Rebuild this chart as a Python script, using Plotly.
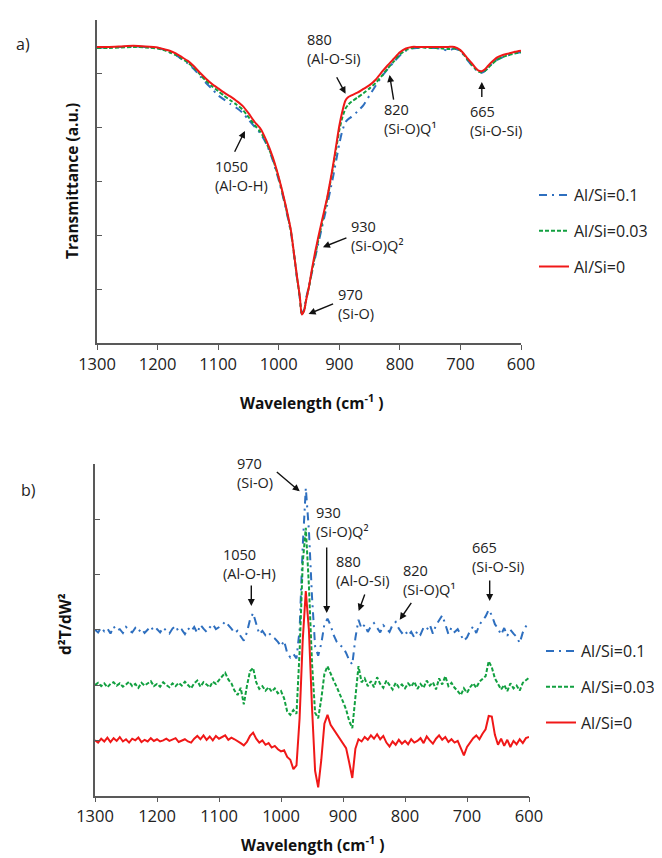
import plotly.graph_objects as go

# ---------------- data: panel a) FTIR transmittance ----------------
WN_A = [1300, 1280, 1260, 1240, 1220, 1200, 1190, 1180, 1170, 1160,
        1150, 1140, 1130, 1120, 1110, 1100, 1090, 1080, 1070, 1060,
        1050, 1040, 1030, 1020, 1010, 1000, 990, 980, 975, 970,
        965, 962, 958, 955, 950, 945, 940, 935, 930, 925,
        920, 915, 910, 905, 900, 895, 890, 885, 880, 870,
        860, 850, 840, 830, 820, 810, 800, 790, 780, 770,
        760, 750, 740, 730, 720, 710, 700, 690, 680, 675,
        670, 665, 660, 655, 650, 640, 630, 620, 610, 600]

T_SI01 = [54.9, 54.9, 55.0, 55.1, 55.0, 54.8, 54.5, 54.0, 53.5, 52.7,
          51.9, 50.9, 49.6, 48.3, 47.2, 46.0, 45.2, 44.4, 43.7, 42.8,
          41.5, 40.2, 38.9, 36.9, 34.0, 30.3, 25.8, 20.6, 16.6, 12.2,
          8.2, 5.4, 6.3, 8.2, 10.6, 13.2, 15.8, 18.3, 20.8, 23.2,
          25.6, 28.3, 31.0, 34.0, 37.0, 39.4, 41.0, 41.6, 42.0, 43.0,
          44.2, 46.0, 47.8, 49.5, 50.9, 52.2, 53.4, 54.3, 54.7, 54.8,
          54.9, 54.8, 54.8, 54.6, 54.3, 54.7, 54.2, 52.8, 51.4, 50.8,
          50.3, 50.2, 50.5, 51.0, 51.6, 52.6, 53.1, 53.5, 53.8, 54.0]

T_SI003 = [54.8, 54.8, 54.9, 55.0, 54.9, 54.7, 54.4, 54.0, 53.5, 52.8,
           52.1, 51.1, 49.9, 48.7, 47.7, 46.8, 45.9, 45.1, 44.3, 43.4,
           42.0, 40.5, 39.2, 37.1, 34.3, 30.6, 26.1, 20.8, 16.8, 12.3,
           8.3, 5.3, 6.1, 7.9, 10.4, 13.4, 16.2, 18.9, 21.5, 24.1,
           26.7, 29.7, 32.8, 36.2, 39.5, 41.9, 43.5, 44.3, 44.8, 45.6,
           46.4, 47.3, 48.3, 49.6, 51.0, 52.3, 53.6, 54.4, 54.8, 54.9,
           54.9, 54.8, 54.8, 54.7, 54.6, 54.7, 54.3, 52.9, 51.5, 50.9,
           50.4, 50.3, 50.5, 51.0, 51.6, 52.6, 53.1, 53.5, 53.8, 54.0]

T_SI0 = [55.0, 55.0, 55.1, 55.2, 55.1, 54.9, 54.6, 54.3, 53.8, 53.1,
         52.4, 51.4, 50.2, 49.1, 48.1, 47.3, 46.5, 45.8, 45.0, 44.1,
         42.7, 41.1, 39.8, 37.5, 34.6, 30.8, 26.3, 21.0, 16.8, 12.5,
         8.5, 5.3, 6.0, 7.8, 10.5, 13.8, 16.8, 19.5, 22.0, 24.5,
         27.0, 30.0, 33.2, 36.8, 40.3, 43.0, 45.0, 45.7, 46.0, 46.5,
         47.2, 47.9, 48.9, 50.3, 51.6, 52.8, 54.0, 54.7, 55.0, 55.0,
         55.0, 55.0, 55.0, 55.0, 55.0, 55.0, 54.4, 53.1, 51.8, 51.1,
         50.6, 50.5, 50.8, 51.4, 52.0, 53.0, 53.5, 53.8, 54.1, 54.3]

# ---------------- data: panel b) second derivative (offset traces) ----------------
WN_B = list(range(1300, 599, -5))   # 1300, 1295, ..., 600

D2_SI01 = [30.0, 29.5, 30.4, 29.7, 30.2, 29.3, 30.6, 29.8, 30.1, 29.4,   # 1300
           30.5, 29.9, 29.5, 30.3, 29.6, 30.2, 29.4, 30.0, 30.6, 29.7,   # 1250
           30.1, 29.5, 30.4, 29.8, 29.3, 30.2, 30.7, 29.6, 30.0, 29.2,   # 1200
           30.3, 29.7, 30.5, 29.4, 30.9, 30.2, 29.6, 30.4, 31.0, 30.1,   # 1150
           30.5, 30.8, 31.5, 30.9, 30.2, 29.4, 29.8, 28.8, 28.0, 29.5,   # 1100
           31.8, 33.0, 31.0, 29.2, 29.8, 29.0, 29.5, 28.8, 28.4, 27.8,   # 1050
           27.0, 28.0, 25.8, 25.0, 25.6, 24.8, 30.0, 45.0, 55.6, 48.0,   # 1000
           36.0, 27.0, 25.3, 27.5, 31.0, 32.0, 30.8, 29.0, 27.8, 27.2,   # 950
           26.8, 25.8, 24.5, 23.7, 28.5, 31.8, 30.2, 30.9, 29.6, 30.6,   # 900
           31.2, 30.4, 29.5, 30.8, 30.1, 29.6, 30.9, 31.4, 30.2, 29.4,   # 850
           29.9, 28.9, 29.6, 28.6, 29.8, 29.1, 30.4, 30.0, 30.9, 29.3,   # 800
           30.8, 31.6, 32.6, 31.0, 29.2, 30.4, 29.6, 30.1, 28.9, 28.0,   # 750
           28.6, 29.8, 30.6, 29.4, 30.9, 31.7, 32.4, 33.6, 32.6, 31.0,   # 700
           30.2, 29.1, 30.3, 28.9, 30.0, 29.3, 28.7, 27.6, 29.5, 30.6,   # 650
           31.2]                                                         # 600

D2_SI003 = [20.0, 20.4, 19.8, 20.3, 19.6, 20.2, 20.5, 19.9, 20.3, 19.7,
            20.1, 20.6, 19.8, 20.2, 19.5, 20.4, 19.9, 20.3, 20.7, 19.8,
            20.2, 19.7, 20.5, 20.0, 19.6, 20.3, 19.8, 20.4, 19.9, 20.6,
            20.0, 19.4, 20.3, 20.8, 19.7, 20.5, 20.1, 19.6, 20.6, 20.2,
            20.9, 21.5, 22.2, 21.0, 20.3, 19.0, 18.2, 19.5, 16.5, 19.8,
            22.5, 23.1, 20.5, 19.3, 19.8, 19.0, 19.6, 18.8, 19.4, 18.5,
            18.9, 17.6, 15.2, 14.6, 15.5, 14.8, 26.0, 42.0, 48.4, 38.0,
            24.0, 15.0, 14.0, 17.5, 22.0, 23.4, 22.0, 20.8, 19.6, 18.4,
            17.0, 15.6, 13.5, 12.2, 18.0, 23.4, 20.5, 21.2, 19.8, 20.7,
            19.6, 21.4, 20.2, 19.5, 20.8, 19.9, 19.2, 20.4, 19.6, 20.1,
            19.4, 20.3, 19.7, 20.6, 19.3, 20.2, 19.5, 20.8, 19.9, 20.5,
            19.2, 21.2, 20.1, 21.6, 19.8, 20.4, 19.5, 18.9, 18.2, 19.4,
            18.6, 19.6, 20.3, 19.5, 20.6, 21.1, 21.6, 24.3, 23.2, 21.2,
            20.1, 19.2, 20.0, 18.9, 20.3, 19.4, 19.9, 19.0, 20.4, 20.8,
            21.3]

D2_SI0 = [10.0, 9.6, 10.3, 9.8, 10.5, 9.7, 10.4, 9.9, 10.6, 9.8,
          10.2, 9.6, 10.3, 10.0, 10.5, 9.7, 10.1, 9.8, 10.4, 9.9,
          10.2, 9.8, 10.0, 10.3, 9.9, 10.1, 10.4, 9.7, 10.0, 10.2,
          9.8, 9.6, 10.3, 10.8, 10.2, 10.9, 10.1, 10.7, 10.0, 10.8,
          10.3, 10.6, 10.9, 10.1, 10.5, 10.2, 9.9, 9.5, 9.1, 9.7,
          10.8, 11.4, 10.3, 9.6, 10.0, 9.2, 9.5, 8.7, 9.0, 8.4,
          8.0, 8.2, 7.0, 6.5, 4.8, 5.5, 14.0, 28.0, 37.0, 30.0,
          16.0, 4.5, 1.5, 6.5, 13.0, 14.6, 12.8, 12.0, 11.2, 10.4,
          9.6, 8.6, 6.0, 3.2, 8.5, 10.2, 9.8, 10.6, 10.1, 10.9,
          10.3, 11.1, 10.2, 10.8, 9.6, 8.9, 9.8, 9.2, 10.1, 9.4,
          9.9, 9.3, 10.2, 9.6, 9.9, 10.4, 9.5, 10.7, 10.0, 9.4,
          10.3, 10.9, 10.1, 10.6, 9.7, 10.2, 9.6, 9.9, 8.6, 7.3,
          8.8, 9.7, 10.4, 10.9, 10.2, 11.2, 12.0, 14.4, 14.3, 11.0,
          9.2, 10.3, 9.0, 10.1, 8.8, 9.9, 9.3, 10.2, 9.5, 10.4,
          10.6]

SERIES_NAMES = ["Al/Si=0.1", "Al/Si=0.03", "Al/Si=0"]
X_TICKS = [1300, 1200, 1100, 1000, 900, 800, 700, 600]

# band labels (text) and the wavenumber each arrow points at
LABELS_A = ["880<br>(Al-O-Si)", "820<br>(Si-O)Q¹", "665<br>(Si-O-Si)",
            "1050<br>(Al-O-H)", "930<br>(Si-O)Q²", "970<br>(Si-O)"]
ARROW_WN_A = [889.6, 817, 664.7, 1055.8, 927, 950.7]
ARROW_VAL_A = [46.3, 49.8, 48.5, 39.4, 17.8, 5.4]

LABELS_B = ["970<br>(Si-O)", "930<br>(Si-O)Q²", "1050<br>(Al-O-H)",
            "880<br>(Al-O-Si)", "820<br>(Si-O)Q¹", "665<br>(Si-O-Si)"]
ARROW_WN_B = [969.8, 926.3, 1047.9, 874.7, 808.5, 663.4]
ARROW_VAL_B = [55.0, 33.0, 34.3, 33.4, 31.8, 35.2]

# ---------------- layout helpers ----------------
W, H = 662, 858
def px(x):
    return x / W
def py(y):
    return 1 - y / H

FONT = "Open Sans"
COLORS = ["#2E6FBF", "#12A040", "#F01818"]
DASHES = ["8px,5px,2px,5px", "4px,2px", "solid"]

fig = go.Figure()

for name, ys, c, d in zip(SERIES_NAMES, [T_SI01, T_SI003, T_SI0], COLORS, DASHES):
    fig.add_trace(go.Scatter(x=WN_A, y=ys, mode="lines", name=name,
                             line=dict(color=c, dash=d, width=2, shape="spline", smoothing=0.6),
                             xaxis="x", yaxis="y", legend="legend", legendgroup="a" + name))

for name, ys, c, d in zip(SERIES_NAMES, [D2_SI01, D2_SI003, D2_SI0], COLORS, DASHES):
    fig.add_trace(go.Scatter(x=WN_B, y=ys, mode="lines", name=name,
                             line=dict(color=c, dash=d, width=2),
                             xaxis="x2", yaxis="y2", legend="legend2", legendgroup="b" + name))

axis_common = dict(range=[1300, 600], tickmode="array", tickvals=X_TICKS,
                   ticks="outside", ticklen=5, tickcolor="#595959",
                   showline=True, linecolor="#595959", linewidth=1.5,
                   showgrid=False, zeroline=False, automargin=False,
                   tickfont=dict(family=FONT, size=16.5, color="#222"))
yaxis_common = dict(range=[0, 60], tickmode="linear", tick0=0, dtick=10,
                    ticks="inside", ticklen=5, tickcolor="#595959",
                    showticklabels=False, showline=True, linecolor="#595959",
                    linewidth=1.5, showgrid=False, zeroline=False, automargin=False)

legend_common = dict(xanchor="left", yanchor="top", bgcolor="rgba(0,0,0,0)",
                     font=dict(family=FONT, size=16, color="#222"),
                     tracegroupgap=12, itemwidth=30, traceorder="grouped")

fig.update_layout(
    template="none",
    width=W, height=H, margin=dict(l=0, r=0, t=0, b=0, pad=0, autoexpand=False),
    paper_bgcolor="white", plot_bgcolor="white",
    xaxis=dict(domain=[px(89), px(513)], anchor="y", **axis_common),
    yaxis=dict(domain=[py(335), py(12)], anchor="x", **yaxis_common),
    xaxis2=dict(domain=[px(87), px(521)], anchor="y2", **axis_common),
    yaxis2=dict(domain=[py(787.7), py(455.7)], anchor="x2", **yaxis_common),
    legend=dict(x=px(526), y=py(170), **legend_common),
    legend2=dict(x=px(533), y=py(626), **legend_common),
    showlegend=True,
)

ann = []
text_font = dict(family=FONT, size=14.5, color="#222")
# text blocks: (left px, center y px); arrow tails as pixel offsets from the head
POS_A = [(299, 40.8), (376, 110.7), (461.7, 112.7), (207, 168), (343, 228), (330, 296.3)]
TAIL_A = [(-9.7, -18), (4.3, 26.3), (0, 16.7), (-11, 22.3), (25, -10), (26, -10.7)]
POS_B = [(229, 465), (308, 514), (215, 556), (328, 563), (395, 571.7), (464, 549)]
TAIL_B = [(-24.4, -20.6), (0, -67), (0, -22), (6.6, -18), (12.6, -18.4), (0, -22)]

for lab, (lx, cy) in zip(LABELS_A, POS_A):
    ann.append(dict(text=lab, xref="paper", yref="paper", x=px(lx - 2), y=py(cy),
                    xanchor="left", yanchor="middle", align="left",
                    showarrow=False, font=text_font))
for wn, v, (ax, ay) in zip(ARROW_WN_A, ARROW_VAL_A, TAIL_A):
    ann.append(dict(text="", xref="x", yref="y", x=wn, y=v, ax=ax, ay=ay,
                    showarrow=True, arrowhead=2, arrowsize=1, arrowwidth=1.4,
                    arrowcolor="#111"))
for lab, (lx, cy) in zip(LABELS_B, POS_B):
    ann.append(dict(text=lab, xref="paper", yref="paper", x=px(lx - 2), y=py(cy),
                    xanchor="left", yanchor="middle", align="left",
                    showarrow=False, font=text_font))
for wn, v, (ax, ay) in zip(ARROW_WN_B, ARROW_VAL_B, TAIL_B):
    ann.append(dict(text="", xref="x2", yref="y2", x=wn, y=v, ax=ax, ay=ay,
                    showarrow=True, arrowhead=2, arrowsize=1, arrowwidth=1.4,
                    arrowcolor="#111"))

title_font = dict(family=FONT, size=15.5, color="#111")
ann += [
    dict(text="<b>Wavelength (cm<sup>-1</sup> )</b>", xref="paper", yref="paper",
         x=px(304), y=py(394), xanchor="center", yanchor="middle", showarrow=False, font=title_font),
    dict(text="<b>Wavelength (cm<sup>-1</sup> )</b>", xref="paper", yref="paper",
         x=px(305), y=py(836), xanchor="center", yanchor="middle", showarrow=False, font=title_font),
    dict(text="<b>Transmittance (a.u.)</b>", xref="paper", yref="paper", textangle=-90,
         x=px(64), y=py(173), xanchor="center", yanchor="middle", showarrow=False,
         font=dict(family=FONT, size=15.5, color="#111")),
    dict(text="<b>d²T/dW²</b>", xref="paper", yref="paper", textangle=-90,
         x=px(57), y=py(616), xanchor="center", yanchor="middle", showarrow=False,
         font=dict(family=FONT, size=15.5, color="#111")),
    dict(text="a)", xref="paper", yref="paper", x=px(15), y=py(36),
         xanchor="center", yanchor="middle", showarrow=False,
         font=dict(family=FONT, size=16, color="#222")),
    dict(text="b)", xref="paper", yref="paper", x=px(20), y=py(482),
         xanchor="center", yanchor="middle", showarrow=False,
         font=dict(family=FONT, size=16, color="#222")),
]
fig.update_layout(annotations=ann)

fig.write_html("out.html")
